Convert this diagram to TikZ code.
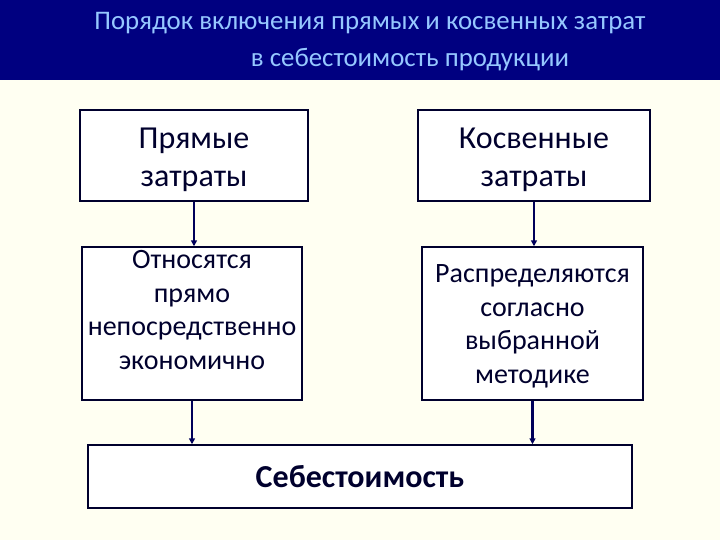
\documentclass[tikz,border=0pt]{standalone}
\usepackage{fontspec}
\setmainfont{Carlito}
\usetikzlibrary{arrows.meta, positioning}
\definecolor{navybar}{RGB}{0,0,128}
\definecolor{titleblue}{RGB}{150,200,255}
\definecolor{inkblue}{RGB}{0,0,45}
\definecolor{arrowblue}{RGB}{0,0,90}
\definecolor{cream}{RGB}{255,255,242}
\tikzset{
  box/.style={draw=inkblue, line width=1.5pt, fill=white, inner sep=0pt},
  boxtext/.style={text=inkblue, align=center, font=\fontsize{28}{33.5}\selectfont},
  headtext/.style={text=inkblue, align=center, font=\fontsize{32}{38}\selectfont},
  flow/.style={arrowblue, line width=2.2pt, -{Triangle[length=6pt,width=6pt]}}
}
\begin{document}
\begin{tikzpicture}[x=1pt,y=-1pt]
  \useasboundingbox (0,0) rectangle (720,540);
  % background and title bar
  \fill[cream] (0,0) rectangle (720,540);
  \fill[navybar] (0,0) rectangle (720,80);
  \node[text=titleblue, font=\fontsize{26.8}{30}\selectfont] (title1) at (370,23) {Порядок включения прямых и косвенных затрат};
  \node[text=titleblue, font=\fontsize{26.8}{30}\selectfont] (title2) at (410,60) {в себестоимость продукции};
  % top row
  \node[box, minimum width=228, minimum height=91] (direct) at (194,155.5) {};
  \node[headtext] (directtxt) at ([yshift=-4pt]direct.center) {Прямые\\затраты};
  \node[box, minimum width=232, minimum height=91] (indirect) at (534,155.5) {};
  \node[headtext] (indirecttxt) at ([yshift=-4pt]indirect.center) {Косвенные\\затраты};
  % middle row
  \node[box, minimum width=220, minimum height=153] (directhow) at (192,323.5) {};
  \node[boxtext, below=1pt of directhow.north] (directhowtxt) {Относятся\\прямо\\непосредственно\\экономично};
  \node[box, minimum width=221, minimum height=153] (indirecthow) at (532.5,323.5) {};
  \node[boxtext] (indirecthowtxt) at ([yshift=-3pt]indirecthow.center) {Распределяются\\согласно\\выбранной\\методике};
  % bottom
  \node[box, minimum width=544, minimum height=63, text=inkblue, font=\fontsize{32}{36}\selectfont\bfseries] (cost) at (360,476.5) {Себестоимость};
  % arrows
  \draw[flow] (direct.south) -- (direct.south |- directhow.north);
  \draw[flow] (indirect.south) -- (indirect.south |- indirecthow.north);
  \draw[flow] (directhow.south) -- (directhow.south |- cost.north);
  \draw[flow] (indirecthow.south) -- (indirecthow.south |- cost.north);
\end{tikzpicture}
\end{document}
